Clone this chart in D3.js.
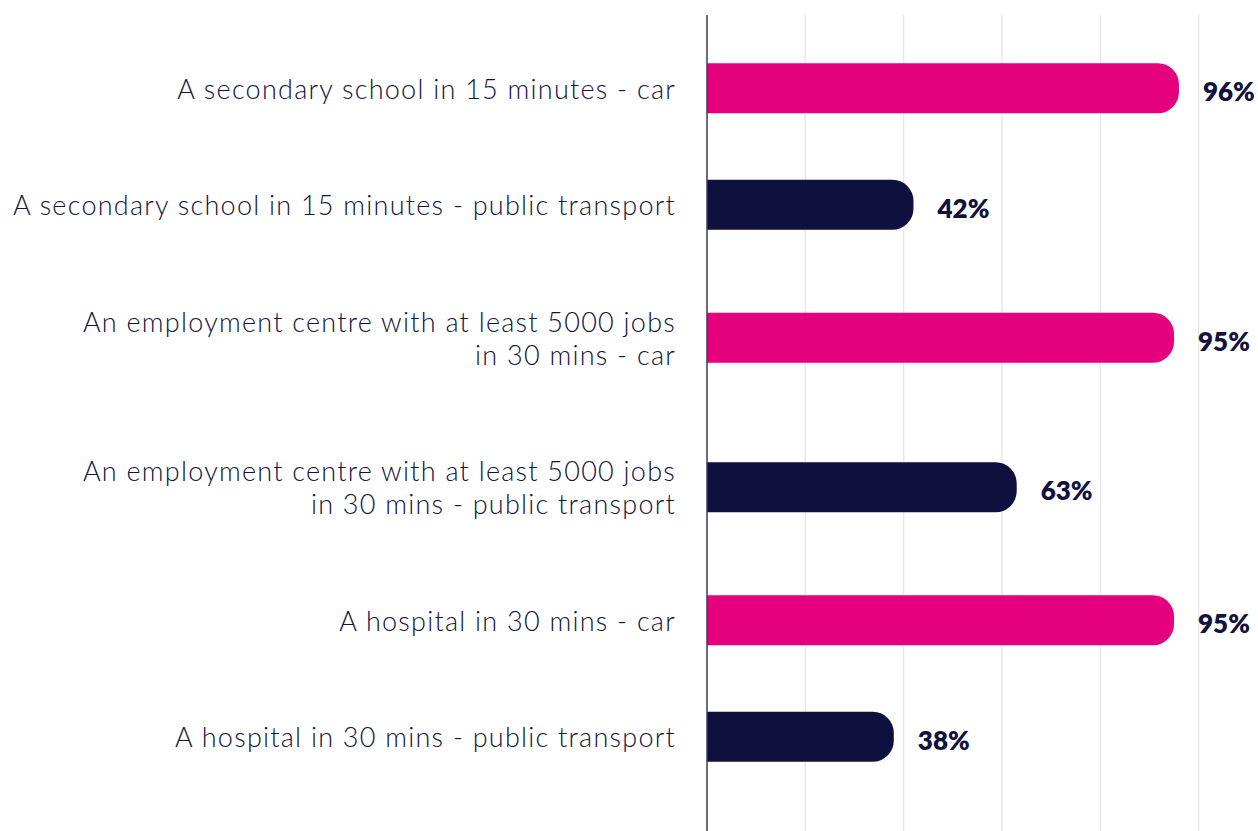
<!DOCTYPE html>
<html>
<head>
<meta charset="utf-8">
<script src="https://cdn.jsdelivr.net/npm/d3@7.9.0/dist/d3.min.js"></script>
<style>
  html, body { margin: 0; padding: 0; background: #fff; }
  svg { display: block; }
</style>
</head>
<body>
<svg id="chart" width="1258" height="831"></svg>
<script>
// --- DATA ---
const categories = [
  'A secondary school in 15 minutes - car',
  'A secondary school in 15 minutes - public transport',
  'An employment centre with at least 5000 jobs\nin 30 mins - car',
  'An employment centre with at least 5000 jobs\nin 30 mins - public transport',
  'A hospital in 30 mins - car',
  'A hospital in 30 mins - public transport'
];
const values = [96, 42, 95, 63, 95, 38];
const modes = ['car', 'public transport', 'car', 'public transport', 'car', 'public transport'];
const gridTicks = [20, 40, 60, 80, 100];

// --- LAYOUT ---
const width = 1258, height = 831;
const axisX = 707, plotRight = 1198.6;
const plotTop = 15, rowsTop = 30;
const rowBase = 83.5, lineHeight = 33;
const barHeight = 50, capRadius = 21;
const ink = '#12123d';
const colour = d3.scaleOrdinal().domain(['car', 'public transport']).range(['#e5007d', '#0f103d']);

const svg = d3.select('#chart');

const x = d3.scaleLinear().domain([0, 100]).range([axisX, plotRight]);

// rows get taller when the label wraps onto two lines
const lines = categories.map(c => c.split('\n'));
const rowHeights = lines.map(l => rowBase + lineHeight * l.length);
const rowStarts = [0, ...d3.cumsum(rowHeights)].slice(0, categories.length);
const rowCenter = i => rowsTop + rowStarts[i] + rowHeights[i] / 2;

// gridlines
svg.append('g')
  .selectAll('line')
  .data(gridTicks)
  .join('line')
  .attr('x1', d => x(d)).attr('x2', d => x(d))
  .attr('y1', plotTop).attr('y2', height)
  .attr('stroke', '#e7e7ec')
  .attr('stroke-width', 1.5);

// bars with rounded right end
function barPath(x0, x1, yc, h, r) {
  const p = d3.path();
  const y0 = yc - h / 2, y1 = yc + h / 2;
  p.moveTo(x0, y0);
  p.lineTo(x1 - r, y0);
  p.arcTo(x1, y0, x1, y0 + r, r);
  p.lineTo(x1, y1 - r);
  p.arcTo(x1, y1, x1 - r, y1, r);
  p.lineTo(x0, y1);
  p.closePath();
  return p.toString();
}

svg.append('g')
  .selectAll('path')
  .data(values)
  .join('path')
  .attr('d', (d, i) => barPath(x(0), x(d), rowCenter(i), barHeight, capRadius))
  .attr('fill', (d, i) => colour(modes[i]));

// axis line
svg.append('line')
  .attr('x1', axisX).attr('x2', axisX)
  .attr('y1', plotTop).attr('y2', height)
  .attr('stroke', '#3b3b5e')
  .attr('stroke-width', 1.5);

// value labels
svg.append('g')
  .selectAll('text')
  .data(values)
  .join('text')
  .attr('x', d => x(d) + 24)
  .attr('y', (d, i) => rowCenter(i) + 3)
  .attr('dominant-baseline', 'central')
  .attr('font-family', 'Lato, sans-serif')
  .attr('font-weight', 800)
  .attr('font-size', 26)
  .attr('fill', ink)
  .text(d => d + '%');

// category labels
const labels = svg.append('g')
  .selectAll('text')
  .data(lines)
  .join('text')
  .attr('text-anchor', 'end')
  .attr('font-family', 'Lato, sans-serif')
  .attr('font-weight', 300)
  .attr('font-size', 27)
  .attr('letter-spacing', 1.25)
  .attr('fill', ink);

labels.each(function (l, i) {
  const t = d3.select(this);
  const y0 = rowCenter(i) - (l.length - 1) * lineHeight / 2;
  l.forEach((s, j) => {
    t.append('tspan')
      .attr('x', 676)
      .attr('y', y0 + j * lineHeight)
      .attr('dominant-baseline', 'central')
      .text(s);
  });
});
</script>
</body>
</html>
